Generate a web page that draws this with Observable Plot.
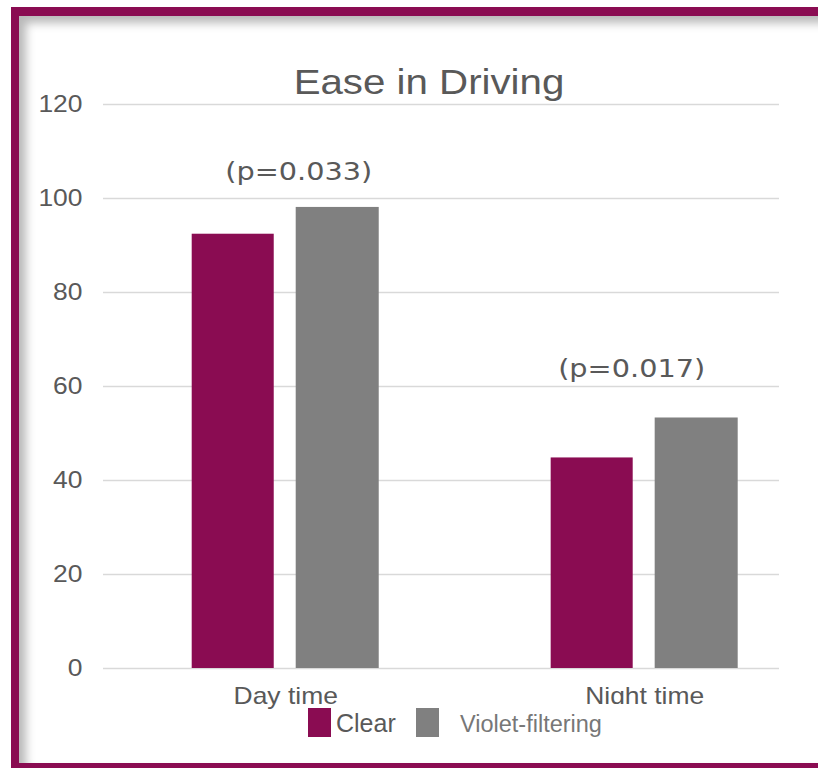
<!DOCTYPE html>
<html>
<head>
<meta charset="utf-8">
<script src="https://cdn.jsdelivr.net/npm/d3@7"></script>
<script src="https://cdn.jsdelivr.net/npm/@observablehq/plot@0.6"></script>
<style>
  html, body { margin: 0; padding: 0; background: #fff; }
  #page { position: relative; width: 818px; height: 768px; overflow: hidden; background: #fff; }
  #frame {
    position: absolute; left: 11px; top: 7px; width: 830px; height: 761px;
    box-sizing: border-box;
    border-left: 8px solid #8a0c52; border-top: 9px solid #8a0c52; border-bottom: 5px solid #8a0c52;
    box-shadow: inset 7px 7px 10px rgba(0,0,0,0.28);
  }
  #title {
    position: absolute; left: 0; width: 858px; top: 64px; text-align: center;
    font: 35px/35px "Liberation Sans", Arial, sans-serif; color: #595959;
    transform: scaleX(1.15); transform-origin: 429px 0;
  }
  #chart { position: absolute; left: 0; top: 0; }
  #legend { position: absolute; left: 300px; top: 704px; width: 340px; height: 40px; background: #fff; }
  .sw { position: absolute; top: 4px; width: 23px; height: 29px; }
  .lab { position: absolute; white-space: nowrap; font-family: "Liberation Sans", Arial, sans-serif; line-height: 1; }
</style>
</head>
<body>
<div id="page">
  <div id="frame"></div>
  <div id="title">Ease in Driving</div>
  <div id="chart"></div>
  <div id="legend"></div>
</div>
<script>
// Survey results: ease in driving, by time of day and lens type
const groups = ["Day time", "Night time"];
const series = ["Clear", "Violet-filtering"];
const clearValues = [92.4, 44.8];
const violetValues = [98.1, 53.3];
const pLabels = ["(p=0.033)", "(p=0.017)"];
const yTicks = [0, 20, 40, 60, 80, 100, 120];

const colors = {"Clear": "#8a0c52", "Violet-filtering": "#808080"};
const textColor = "#595959";

const rows = groups.flatMap((g, i) => [
  {group: g, series: series[0], value: clearValues[i]},
  {group: g, series: series[1], value: violetValues[i]}
]);
const notes = groups.map((g, i) => ({
  group: g,
  label: pLabels[i],
  top: Math.max(clearValues[i], violetValues[i])
}));

const chart = Plot.plot({
  width: 818,
  height: 712,
  marginLeft: 103,
  marginRight: 39,
  marginTop: 104,
  marginBottom: 44,
  style: {background: "transparent", color: textColor, fontFamily: "'Liberation Sans', Arial, sans-serif"},
  x: {domain: groups, range: [191.7, 737.7], paddingInner: 0.479, paddingOuter: 0, round: false, label: null},
  y: {domain: [0, 120], label: null},
  marks: [
    Plot.ruleY(yTicks, {stroke: "#d9d9d9", strokeWidth: 1.5}),
    Plot.barY(rows.filter(d => d.series === series[0]), {
      x: "group", y: "value", fill: colors[series[0]], insetLeft: 0, insetRight: 105
    }),
    Plot.barY(rows.filter(d => d.series === series[1]), {
      x: "group", y: "value", fill: colors[series[1]], insetLeft: 104, insetRight: 0
    }),
    Plot.axisY({ticks: yTicks, tickSize: 0, tickPadding: 21, fontSize: 23, fill: textColor}),
    Plot.axisX({tickSize: 0, tickPadding: 19, fontSize: 23, fill: textColor}),
    Plot.text([notes[0]], {
      x: "group", y: "top", text: "label", lineAnchor: "bottom", dx: 13, dy: -27,
      fontSize: 25, fontFamily: "'DejaVu Sans', Verdana, sans-serif", fill: textColor
    }),
    Plot.text([notes[1]], {
      x: "group", y: "top", text: "label", lineAnchor: "bottom", dx: -13, dy: -41,
      fontSize: 25, fontFamily: "'DejaVu Sans', Verdana, sans-serif", fill: textColor
    })
  ]
});

// widen the glyphs a little around each label's anchor point
d3.select(chart).selectAll("text").each(function() {
  const t = this.getAttribute("transform") || "";
  this.setAttribute("transform", (t + " scale(1.15,1)").trim());
});

document.getElementById("chart").appendChild(chart);

// legend below the plot
const legend = d3.select("#legend");
const legendItems = [
  {name: series[0], swatchLeft: 8, textLeft: 36, textTop: 6.5, size: 25, color: "#595959"},
  {name: series[1], swatchLeft: 116, textLeft: 160, textTop: 8.8, size: 23.5, color: "#777777"}
];
for (const item of legendItems) {
  legend.append("div").attr("class", "sw")
    .style("left", item.swatchLeft + "px").style("background", colors[item.name]);
  legend.append("div").attr("class", "lab")
    .style("left", item.textLeft + "px").style("top", item.textTop + "px")
    .style("font-size", item.size + "px").style("color", item.color)
    .text(item.name);
}
</script>
</body>
</html>
